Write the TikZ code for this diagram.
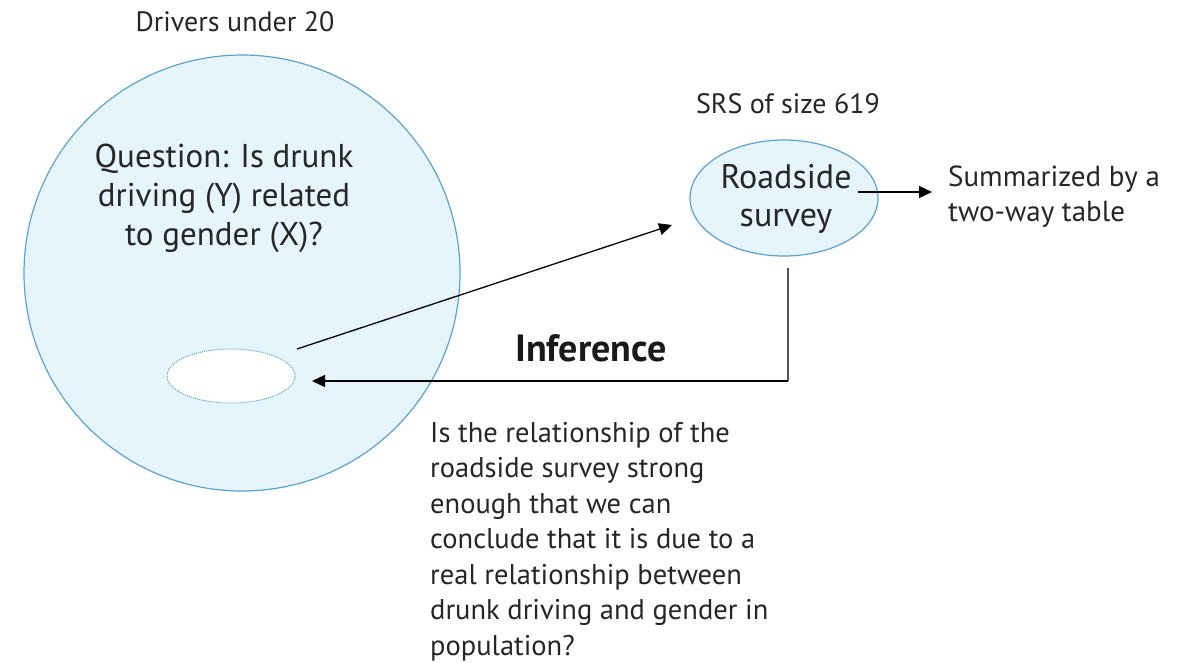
\documentclass[tikz,border=0pt]{standalone}
\usepackage{fontspec}
\setmainfont{PT Sans}
\usetikzlibrary{arrows.meta}
\definecolor{fillb}{HTML}{E6F4FC}
\definecolor{edgeb}{HTML}{5AA3D2}
\definecolor{linegray}{HTML}{555555}
\begin{document}
\begin{tikzpicture}[x=1pt,y=-1pt,
  popcircle/.style={circle,draw=edgeb,fill=fillb,line width=1.2pt,minimum size=436pt,inner sep=0pt},
  arr/.style={-{Triangle[length=13pt,width=12pt]},line width=1.2pt,black},
  lbl/.style={font=\fontsize{28}{30}\selectfont,text=black!85},
  big/.style={font=\fontsize{33}{39}\selectfont,text=black!85,align=center}
]
\useasboundingbox (0,0) rectangle (1190,662);
\node[popcircle] (pop) at (242,273) {};
\draw[edgeb,fill=white,densely dotted,line width=1pt] (231,376) ellipse (64 and 27);
\coordinate (smallR) at (297,349);
\coordinate (smallA) at (312,381);
\node[lbl,anchor=base] (drv) at (235,31) {Drivers under 20};
\node[big] (q) at (224,198) {Question: Is drunk\\driving (Y) related\\to gender (X)?};
\draw[edgeb,fill=fillb,line width=1.2pt] (784,198) ellipse (94 and 58);
\node[font=\fontsize{34}{38}\selectfont,text=black!85,align=center] (rs) at (786,199) {Roadside\\survey};
\node[lbl,anchor=base] (srs) at (788,113) {SRS of size 619};
\coordinate (arrEnd) at (672,225);
\draw[arr,line width=1.3pt] (smallR) -- (arrEnd);
\coordinate (sumS) at (858,192);
\coordinate (sumE) at (932,192);
\draw[arr] (sumS) -- (sumE);
\node[anchor=base west,align=left,font=\fontsize{29}{35}\selectfont,text=black!85,inner sep=0pt] (sum) at (948,221) {Summarized by a\\two-way table};
\coordinate (down0) at (788,268);
\coordinate (corner) at (788,381);
\draw[linegray,line width=1.5pt] (down0) -- (corner);
\draw[arr] (corner) -- (smallA);
\node[font=\bfseries\fontsize{38}{40}\selectfont,anchor=base,text=black!90] (inf) at (591,361) {Inference};
\node[anchor=base west,align=left,inner sep=0pt,font=\fontsize{28.5}{35.5}\selectfont,text=black!85] (bottom) at (430,655)
{Is the relationship of the\\roadside survey strong\\enough that we can\\conclude that it is due to a\\real relationship between\\drunk driving and gender in\\population?};
\end{tikzpicture}
\end{document}
